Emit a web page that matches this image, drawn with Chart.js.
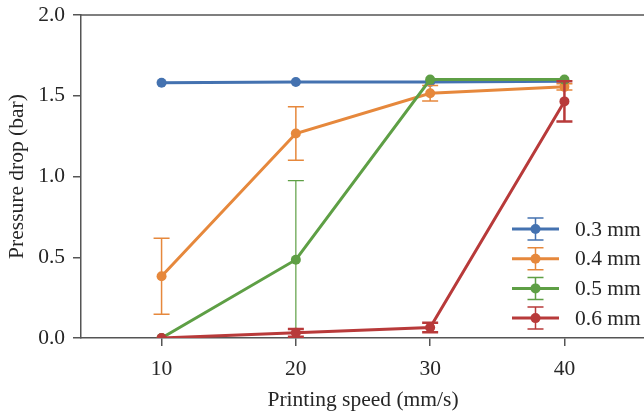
<!DOCTYPE html>
<html>
<head>
<meta charset="utf-8">
<script src="https://cdn.jsdelivr.net/npm/chart.js@4/dist/chart.umd.min.js"></script>
<style>
  html, body { margin: 0; padding: 0; background: #fff; overflow: hidden; }
  #wrap { width: 650px; height: 413px; }
</style>
</head>
<body>
<div id="wrap"><canvas id="c" width="650" height="413"></canvas></div>
<script>
// data
const speeds = [10, 20, 30, 40];
const sizeLabels = ["0.3 mm", "0.4 mm", "0.5 mm", "0.6 mm"];
const p03 = [1.58, 1.585, 1.585, 1.59];
const p04 = [0.382, 1.266, 1.515, 1.555];
const p05 = [0.0, 0.485, 1.60, 1.60];
const p06 = [0.0, 0.032, 0.065, 1.465];
const err03 = [0, 0, 0, 0];
const err04 = [0.235, 0.166, 0.048, 0.02];
const err05 = [0, 0.49, 0, 0];
const err06 = [0, 0.024, 0.03, 0.125];
const xTicks = [10, 20, 30, 40];
const yTicks = [0, 0.5, 1.0, 1.5, 2.0];

const colors = ["#4472B0", "#E6883C", "#5E9F45", "#B83A3A"];
const errWidths = [1.5, 1.5, 1.2, 2.5];
const values = [p03, p04, p05, p06];
const errors = [err03, err04, err05, err06];

const FONT = "'Liberation Serif', 'Times New Roman', serif";
const FS = 21.5;
const AXIS = "#555555";
const TEXT = "#262626";

const datasets = values.map((vals, k) => ({
    label: sizeLabels[k],
    data: speeds.map((s, i) => ({ x: s, y: vals[i] })),
    errors: errors[k],
    errWidth: errWidths[k],
    borderColor: colors[k],
    backgroundColor: colors[k],
    borderWidth: 3,
    pointRadius: 5,
    pointBorderWidth: 0,
    pointHoverRadius: 5,
    tension: 0,
    clip: 0,
    order: values.length - k
}));

// vertical error bars with caps, drawn under each series' line
const errorBars = {
    id: "errorBars",
    beforeDatasetDraw(chart, args) {
        const ds = chart.data.datasets[args.index];
        const ctx = chart.ctx, xs = chart.scales.x, ys = chart.scales.y;
        const a = chart.chartArea;
        ctx.save();
        ctx.beginPath();
        ctx.rect(a.left, a.top, a.right - a.left, a.bottom - a.top);
        ctx.clip();
        ctx.strokeStyle = ds.borderColor;
        ctx.lineWidth = ds.errWidth;
        ds.data.forEach((p, i) => {
            const e = ds.errors[i];
            if (!e) return;
            const px = xs.getPixelForValue(p.x);
            const top = ys.getPixelForValue(p.y + e);
            const bot = ys.getPixelForValue(p.y - e);
            ctx.beginPath();
            ctx.moveTo(px, top); ctx.lineTo(px, bot);
            ctx.moveTo(px - 8, top); ctx.lineTo(px + 8, top);
            ctx.moveTo(px - 8, bot); ctx.lineTo(px + 8, bot);
            ctx.stroke();
        });
        ctx.restore();
    }
};

// top and right spines
const frame = {
    id: "frame",
    afterDraw(chart) {
        const ctx = chart.ctx, a = chart.chartArea;
        ctx.save();
        ctx.strokeStyle = AXIS;
        ctx.lineWidth = 1.5;
        ctx.beginPath();
        ctx.moveTo(a.left, a.top); ctx.lineTo(a.right, a.top); ctx.lineTo(a.right, a.bottom);
        ctx.stroke();
        ctx.restore();
    }
};

// legend in the lower right, matplotlib errorbar style
const legendBox = {
    id: "legendBox",
    afterDraw(chart) {
        const ctx = chart.ctx;
        ctx.save();
        chart.data.datasets.forEach((ds, k) => {
            const y = 229 + k * 29.7;
            const x0 = 512, x1 = 559, cx = (x0 + x1) / 2;
            ctx.strokeStyle = ds.borderColor;
            ctx.lineWidth = 1.5;
            ctx.beginPath();
            ctx.moveTo(cx, y - 11); ctx.lineTo(cx, y + 11);
            ctx.moveTo(cx - 8, y - 11); ctx.lineTo(cx + 8, y - 11);
            ctx.moveTo(cx - 8, y + 11); ctx.lineTo(cx + 8, y + 11);
            ctx.stroke();
            ctx.lineWidth = 3;
            ctx.beginPath();
            ctx.moveTo(x0, y); ctx.lineTo(x1, y);
            ctx.stroke();
            ctx.fillStyle = ds.borderColor;
            ctx.beginPath();
            ctx.arc(cx, y, 5, 0, Math.PI * 2);
            ctx.fill();
            ctx.fillStyle = TEXT;
            ctx.font = FS + "px " + FONT;
            ctx.textBaseline = "middle";
            ctx.textAlign = "left";
            ctx.fillText(ds.label, 575, y + 1);
        });
        ctx.restore();
    }
};

new Chart(document.getElementById("c"), {
    type: "line",
    data: { datasets: datasets },
    options: {
        responsive: false,
        devicePixelRatio: 1,
        animation: false,
        layout: { padding: { top: 15, right: 1, left: 0, bottom: 0 } },
        plugins: {
            legend: { display: false },
            tooltip: { enabled: false }
        },
        scales: {
            x: {
                type: "linear",
                min: 4,
                max: 46,
                afterBuildTicks: (s) => { s.ticks = xTicks.map(v => ({ value: v })); },
                afterFit: (s) => { s.height = 75; s.paddingLeft = 0; s.paddingRight = 0; },
                grid: { drawOnChartArea: false, drawTicks: true, tickLength: 8, tickColor: AXIS, lineWidth: 1.5 },
                border: { display: true, color: AXIS, width: 1.5 },
                ticks: { color: TEXT, font: { family: FONT, size: FS }, padding: 10, maxRotation: 0 },
                title: { display: true, text: "Printing speed (mm/s)", color: TEXT, font: { family: FONT, size: FS }, padding: { top: 0, bottom: 0 } }
            },
            y: {
                min: 0,
                max: 2,
                afterBuildTicks: (s) => { s.ticks = yTicks.map(v => ({ value: v })); },
                afterFit: (s) => { s.width = 81; s.paddingTop = 0; s.paddingBottom = 0; },
                grid: { drawOnChartArea: false, drawTicks: true, tickLength: 8, tickColor: AXIS, lineWidth: 1.5 },
                border: { display: true, color: AXIS, width: 1.5 },
                ticks: { color: TEXT, font: { family: FONT, size: FS }, padding: 8, callback: (v) => Number(v).toFixed(1) },
                title: { display: true, text: "Pressure drop (bar)", color: TEXT, font: { family: FONT, size: FS }, padding: { top: 4, bottom: 0 } }
            }
        }
    },
    plugins: [errorBars, frame, legendBox]
});
</script>
</body>
</html>
